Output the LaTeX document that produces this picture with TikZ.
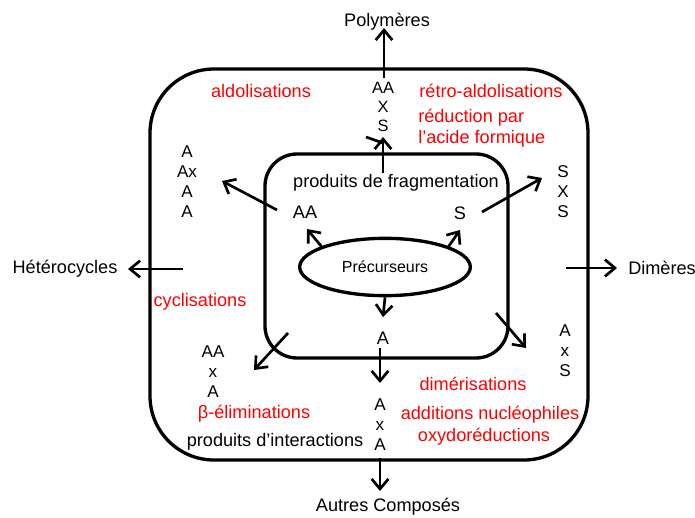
\documentclass[tikz,border=0pt]{standalone}
\usepackage{fontspec}
\setmainfont{Liberation Sans}
\usetikzlibrary{arrows.meta,shapes.geometric}
\begin{document}
\begin{tikzpicture}[x=0.75pt, y=-0.75pt,
	txt/.style={inner sep=0pt, font=\fontsize{13.6}{15.8}\selectfont},
	rouge/.style={txt, text=red},
	lettres/.style={inner sep=0pt, align=center, font=\fontsize{12.8}{15}\selectfont},
	fleche/.style={line width=2pt, -{Straight Barb[length=7.5pt, width=12.5pt, line width=2pt]}},
	cadre/.style={line width=2.5pt}]
	\useasboundingbox (0, 0) rectangle (695, 517);

	% Cadres
	\draw[cadre, rounded corners=48pt] (150, 69) rectangle (588, 460);
	\draw[cadre, rounded corners=24pt] (265, 154) rectangle (508, 358);
	\node[cadre, draw, ellipse, minimum width=128pt, minimum height=43pt, inner sep=0pt,
		font=\fontsize{12}{14}\selectfont] (prec) at (385, 267) {Précurseurs};

	% Produits finaux
	\node[txt] (poly) at (387, 22) {Polymères};
	\node[txt] (hetero) at (65, 269) {Hétérocycles};
	\node[txt] (dim) at (662, 268) {Dimères};
	\node[txt] (autres) at (388, 507) {Autres Composés};

	% Produits de fragmentation
	\node[txt] (frag) at (396, 183) {produits de fragmentation};
	\node[txt] (AA) at (305, 212) {AA};
	\node[txt] (S) at (460, 213) {S};
	\node[txt] (A) at (383, 338) {A};

	% Combinaisons
	\node[lettres, font=\fontsize{12.3}{14}\selectfont] (aaxs) at (383, 107) {AA\\X\\S};
	\node[lettres] (axaa) at (187, 182) {A\\Ax\\A\\A};
	\node[lettres] (sxs) at (563, 192) {S\\X\\S};
	\node[lettres] (axs) at (565, 351) {A\\x\\S};
	\node[lettres] (aaxa) at (213, 372) {AA\\x\\A};
	\node[lettres] (axa) at (380, 425) {A\\x\\A};

	% Reactions
	\node[rouge] (aldol) at (261, 91) {aldolisations};
	\node[rouge] (retro) at (491, 91) {rétro-aldolisations};
	\node[rouge, align=left, anchor=west] (reduc) at (418, 128.5) {réduction par\\l’acide formique};
	\node[rouge] (cycl) at (200, 302) {cyclisations};
	\node[rouge] (beta) at (254, 414) {β-éliminations};
	\node[txt] (inter) at (275, 442) {produits d’interactions};
	\node[rouge] (dimer) at (473, 384) {dimérisations};
	\node[rouge] (addnu) at (490, 415) {additions nucléophiles};
	\node[rouge] (oxred) at (484, 437) {oxydoréductions};

	% Extremites des fleches
	\coordinate (p1) at (384, 78);
	\coordinate (p1t) at (384, 28);
	\coordinate (p2) at (383, 173);
	\coordinate (p2t) at (383, 137);
	\coordinate (p3) at (277, 210);
	\coordinate (p3t) at (222, 181);
	\coordinate (p4t) at (307, 229);
	\coordinate (p5t) at (460, 230);
	\coordinate (p6) at (482, 212);
	\coordinate (p6t) at (542, 178);
	\coordinate (p7) at (183, 269);
	\coordinate (p7t) at (128, 269);
	\coordinate (p8) at (566, 268);
	\coordinate (p8t) at (617, 268);
	\coordinate (p9t) at (383, 317);
	\coordinate (p10) at (288, 333);
	\coordinate (p10t) at (254, 370);
	\coordinate (p11) at (496, 313);
	\coordinate (p11t) at (526, 348);
	\coordinate (p12) at (380, 348);
	\coordinate (p12t) at (380, 383);
	\coordinate (p13) at (380, 458);
	\coordinate (p13t) at (380, 491);

	% Fleches
	\draw[fleche] (p1) -- (p1t);
	\draw[fleche] (p2) -- (p2t);
	\draw[line width=2pt] (p2t) ++(-17, 0) -- ++(17, 6);
	\draw[fleche] (p3) -- (p3t);
	\draw[fleche] (prec.162) -- (p4t);
	\draw[fleche] (prec.18) -- (p5t);
	\draw[fleche] (p6) -- (p6t);
	\draw[fleche] (p7) -- (p7t);
	\draw[fleche] (p8) -- (p8t);
	\draw[fleche] (prec.south) -- (p9t);
	\draw[fleche] (p10) -- (p10t);
	\draw[fleche] (p11) -- (p11t);
	\draw[fleche] (p12) -- (p12t);
	\draw[fleche] (p13) -- (p13t);
\end{tikzpicture}
\end{document}
